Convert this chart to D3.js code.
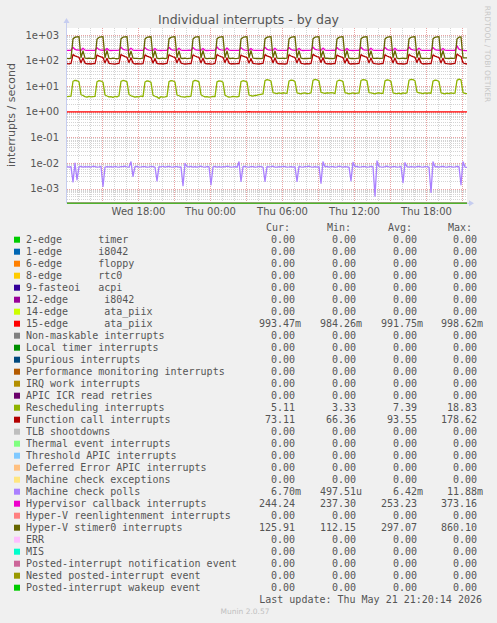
<!DOCTYPE html>
<html><head><meta charset="utf-8">
<script src="https://cdn.jsdelivr.net/npm/d3@7"></script>
<style>
body{margin:0;background:#f0f0f0;}
svg{display:block;}
text{font-family:"DejaVu Sans",sans-serif;}
.mono{font-family:"DejaVu Sans Mono",monospace;}
</style></head><body><svg id="c" width="497" height="623"></svg>
<script>
// ---------- DATA ----------
const titleText = "Individual interrupts - by day";
const yAxisLabel = "interrupts / second";
const startTime = new Date(2026, 4, 20, 12, 5);
const endTime = new Date(2026, 4, 21, 21, 25);
const stepMinutes = 10;

const yTickValues = [0.001, 0.01, 0.1, 1, 10, 100, 1000];
const yTickLabels = ["1e-03", "1e-02", "1e-01", "1e+00", "1e+01", "1e+02", "1e+03"];
const xTickDates = [new Date(2026,4,20,18,0), new Date(2026,4,21,0,0), new Date(2026,4,21,6,0), new Date(2026,4,21,12,0), new Date(2026,4,21,18,0)];
const xTickLabels = ["Wed 18:00", "Thu 00:00", "Thu 06:00", "Thu 12:00", "Thu 18:00"];

const legendNames = [
  "2-edge      timer", "1-edge      i8042", "6-edge      floppy", "8-edge      rtc0",
  "9-fasteoi   acpi", "12-edge      i8042", "14-edge      ata_piix", "15-edge      ata_piix",
  "Non-maskable interrupts", "Local timer interrupts", "Spurious interrupts",
  "Performance monitoring interrupts", "IRQ work interrupts", "APIC ICR read retries",
  "Rescheduling interrupts", "Function call interrupts", "TLB shootdowns",
  "Thermal event interrupts", "Threshold APIC interrupts", "Deferred Error APIC interrupts",
  "Machine check exceptions", "Machine check polls", "Hypervisor callback interrupts",
  "Hyper-V reenlightenment interrupts", "Hyper-V stimer0 interrupts", "ERR", "MIS",
  "Posted-interrupt notification event", "Nested posted-interrupt event", "Posted-interrupt wakeup event"
];
const legendColors = [
  "#00CC00","#0066B3","#FF8000","#FFCC00","#330099","#990099","#CCFF00","#FF0000",
  "#808080","#008F00","#00487D","#B35A00","#B38F00","#6B006B","#8FB300","#B30000",
  "#BEBEBE","#80FF80","#80C9FF","#FFC080","#FFE680","#AA80FF","#EE00CC","#FF8080",
  "#666600","#FFBFFF","#00FFCC","#CC6699","#999900","#00CC00"
];
const curVals = ["0.00","0.00","0.00","0.00","0.00","0.00","0.00","993.47m","0.00","0.00","0.00","0.00","0.00","0.00","5.11","73.11","0.00","0.00","0.00","0.00","0.00","6.70m","244.24","0.00","125.91","0.00","0.00","0.00","0.00","0.00"];
const minVals = ["0.00","0.00","0.00","0.00","0.00","0.00","0.00","984.26m","0.00","0.00","0.00","0.00","0.00","0.00","3.33","66.36","0.00","0.00","0.00","0.00","0.00","497.51u","237.30","0.00","112.15","0.00","0.00","0.00","0.00","0.00"];
const avgVals = ["0.00","0.00","0.00","0.00","0.00","0.00","0.00","991.75m","0.00","0.00","0.00","0.00","0.00","0.00","7.39","93.55","0.00","0.00","0.00","0.00","0.00","6.42m","253.23","0.00","297.07","0.00","0.00","0.00","0.00","0.00"];
const maxVals = ["0.00","0.00","0.00","0.00","0.00","0.00","0.00","998.62m","0.00","0.00","0.00","0.00","0.00","0.00","18.83","178.62","0.00","0.00","0.00","0.00","0.00","11.88m","373.16","0.00","860.10","0.00","0.00","0.00","0.00","0.00"];
const lastUpdate = "Last update: Thu May 21 21:20:14 2026";
const footerText = "Munin 2.0.57";
const sideText = "RRDTOOL / TOBI OETIKER";

// series sampled every 10 minutes from startTime (201 points)
const stimer0 = [121,119,
124,700,810,845,855,130,238,124,120,123,121,118,
123,680,800,835,850,127,245,122,119,125,120,117,
122,710,815,840,860,131,232,125,121,122,119,120,
124,690,805,830,848,128,240,123,118,121,124,119,
125,700,800,838,852,129,236,121,120,123,118,122,
123,695,812,842,856,126,242,124,119,122,121,120,
122,705,808,836,849,130,238,122,120,124,119,121,
124,688,798,832,846,127,244,123,121,120,122,118,
123,700,810,844,858,131,235,125,122,121,123,120,
125,692,806,839,851,128,240,124,119,122,120,121,
122,702,813,841,854,129,237,121,123,120,122,119,
124,696,802,834,848,127,243,123,120,121,118,122,
123,708,811,843,857,130,239,122,121,124,120,121,
125,690,804,837,850,128,241,124,119,121,123,120,
122,698,809,840,853,129,236,123,120,122,121,119,
124,703,807,838,852,127,242,121,122,120,123,121,
123,700,815,845,128,126,126];
const funcCall = [75,74,
77,170,152,141,133,82,126,79,74,76,73,75,
76,165,148,139,131,81,122,78,75,74,72,76,
78,172,154,142,134,83,128,80,73,75,74,74,
75,166,149,138,130,80,121,77,74,76,73,75,
77,169,151,140,133,82,125,79,75,73,74,76,
76,167,150,139,132,81,123,78,74,75,72,74,
78,171,153,141,134,83,127,79,73,76,74,75,
75,164,147,138,130,80,120,77,75,74,73,76,
77,170,152,142,133,82,126,80,74,75,74,73,
76,168,150,140,131,81,124,78,75,73,76,74,
78,173,155,143,135,84,129,80,74,76,73,75,
75,165,148,139,131,80,122,77,73,75,74,76,
77,170,151,141,133,82,125,79,75,74,72,75,
76,168,150,140,132,81,124,78,74,76,73,74,
78,172,153,142,134,83,127,80,73,75,74,76,
75,166,149,139,131,81,123,78,75,74,73,75,
77,178,156,143,82,75,73];
const hvCallback = [249,251,
252,330,270,257,253,249,302,255,247,250,248,251,
250,318,266,255,252,248,296,252,246,249,251,247,
253,335,272,258,254,250,305,256,248,251,247,250,
251,320,265,254,251,247,298,253,249,246,250,248,
252,328,269,256,253,249,301,254,247,250,248,252,
250,322,267,255,252,248,297,252,246,251,249,247,
254,340,273,259,255,250,307,256,248,250,247,251,
251,319,266,254,251,247,295,253,249,247,250,248,
252,332,270,257,254,249,303,255,247,251,248,250,
250,324,267,255,252,248,299,253,246,249,251,248,
253,338,271,258,254,250,306,256,248,250,247,252,
251,321,266,254,251,247,297,252,249,246,250,248,
252,330,269,256,253,249,302,254,247,250,248,251,
250,326,268,255,252,248,300,253,246,251,249,247,
253,336,272,258,254,250,304,255,248,250,247,250,
251,323,266,255,252,248,298,253,249,247,250,248,
252,373,275,258,250,246,244];
const resched = [3.9,4.0,
4.1,15.5,16.8,16.2,14.8,4.6,4.3,3.9,3.7,4.0,3.8,3.9,
4.0,14.8,16.3,15.8,14.2,4.5,4.1,3.8,3.9,3.6,4.0,3.8,
4.2,15.2,16.6,16.0,14.6,4.7,4.2,4.0,3.7,3.9,3.8,4.1,
3.9,14.5,16.0,15.5,14.0,4.4,4.0,3.8,3.3,3.9,3.7,3.8,
4.0,15.0,16.4,15.9,14.4,4.5,4.2,3.9,3.8,3.7,4.0,3.9,
4.1,15.3,16.7,16.1,14.7,4.6,4.1,3.8,3.9,3.7,3.8,4.0,
3.9,14.6,16.1,15.6,14.1,4.4,4.0,3.7,3.8,4.0,3.9,3.8,
4.0,14.9,16.2,15.7,14.3,4.5,4.2,4.1,4.3,4.4,4.6,4.8,
5.0,16.5,17.8,17.2,15.8,5.6,5.3,5.1,5.4,5.2,5.5,5.3,
5.2,15.8,17.2,16.8,15.2,5.5,5.2,5.0,5.3,5.4,5.1,5.2,
5.4,16.8,18.2,17.6,16.0,5.7,5.4,5.2,5.5,5.3,5.6,5.4,
5.1,15.5,17.0,16.5,15.0,5.5,5.3,5.0,5.2,5.4,5.1,5.3,
5.3,16.6,18.0,17.4,15.9,5.6,5.4,5.2,5.0,5.3,5.5,5.2,
5.2,16.0,17.5,17.0,15.4,5.5,5.2,5.1,5.3,5.0,5.4,5.2,
5.4,16.9,18.4,17.8,16.2,5.8,5.5,5.3,5.1,5.4,5.2,5.5,
5.2,15.7,17.1,16.6,15.1,5.5,5.2,5.0,5.3,5.1,5.4,5.2,
5.3,16.8,18.8,17.5,5.6,5.2,5.1];
const mcPolls = [
.0071,.0069,.0072,.0018,.0098,.0022,.0070,.0073,.0068,.0071,
.0070,.0072,.0069,.0074,.0071,.0068,.0070,.0073,.0012,.0069,
.0071,.0070,.0072,.0068,.0073,.0070,.0069,.0072,.0071,.0074,
.0070,.0068,.0110,.0030,.0071,.0073,.0069,.0070,.0072,.0071,
.0068,.0070,.0073,.0071,.0069,.0020,.0072,.0070,.0074,.0069,
.0071,.0073,.0070,.0068,.0072,.0071,.0069,.0070,.0013,.0095,
.0071,.0070,.0073,.0069,.0072,.0068,.0071,.0074,.0070,.0069,
.0072,.0071,.0014,.0070,.0073,.0069,.0071,.0068,.0072,.0070,
.0074,.0071,.0069,.0070,.0072,.0068,.0110,.0019,.0071,.0073,
.0070,.0069,.0072,.0071,.0068,.0070,.0073,.0071,.0069,.0019,
.0072,.0070,.0071,.0074,.0069,.0068,.0072,.0070,.0073,.0071,
.0069,.0070,.0072,.0068,.0071,.0019,.0073,.0070,.0069,.0072,
.0071,.0074,.0070,.0068,.0072,.0069,.0071,.0016,.0110,.0070,
.0073,.0069,.0071,.0072,.0068,.0070,.0074,.0071,.0069,.0072,
.0070,.0068,.0020,.0105,.0071,.0073,.0069,.0070,.0072,.0071,
.0068,.0070,.0073,.0071,.0005,.0119,.0072,.0070,.0069,.0071,
.0074,.0070,.0068,.0072,.0071,.0069,.0070,.0073,.0017,.0102,
.0071,.0069,.0072,.0070,.0068,.0071,.0073,.0070,.0069,.0072,
.0071,.0068,.0007,.0110,.0070,.0072,.0069,.0071,.0073,.0070,
.0068,.0071,.0072,.0069,.0070,.0073,.0071,.0014,.0110,.0069,
.0067];
const ata15 = [
.992,.991,.993,.990,.992,.994,.991,.992,.990,.993,.991,.992,.989,.993,.992,.991,.994,.990,.992,.991,
.993,.992,.990,.991,.993,.992,.994,.991,.990,.992,.993,.991,.992,.990,.994,.992,.991,.993,.990,.992,
.991,.993,.992,.990,.984,.991,.993,.992,.991,.994,.990,.992,.993,.991,.992,.990,.993,.992,.991,.994,
.992,.990,.991,.993,.992,.991,.994,.990,.992,.993,.991,.992,.990,.993,.992,.991,.993,.992,.990,.991,
.993,.991,.992,.994,.990,.992,.991,.993,.992,.990,.991,.998,.992,.991,.993,.990,.992,.994,.991,.992,
.990,.993,.991,.992,.993,.990,.992,.991,.994,.992,.990,.993,.991,.992,.990,.993,.992,.991,.994,.990,
.992,.991,.993,.990,.992,.994,.991,.992,.990,.993,.991,.992,.989,.993,.992,.991,.994,.990,.992,.991,
.993,.992,.990,.991,.993,.992,.994,.991,.990,.992,.993,.991,.992,.990,.994,.992,.991,.993,.990,.992,
.991,.993,.992,.990,.991,.991,.993,.992,.991,.994,.990,.992,.993,.991,.992,.990,.993,.992,.991,.994,
.992,.990,.991,.993,.992,.991,.994,.990,.992,.993,.991,.992,.990,.993,.992,.991,.993,.992,.990,.993,
.993];
// series index in legend -> values (others are constant 0)
const drawnSeries = [
  {idx: 7, values: ata15},
  {idx: 14, values: resched},
  {idx: 15, values: funcCall},
  {idx: 21, values: mcPolls},
  {idx: 22, values: hvCallback},
  {idx: 24, values: stimer0}
];

// ---------- LAYOUT ----------
const svg = d3.select("#c");
const plotL = 67, plotR = 467, plotT = 28, plotB = 203.3;
const yMin = Math.pow(10, -3.578), yMax = Math.pow(10, 3.27);
const x = d3.scaleTime().domain([startTime, endTime]).range([plotL, plotR]);
const y = d3.scaleLog().domain([yMin, yMax]).range([plotB, plotT]);
const tAt = i => new Date(startTime.getTime() + i * stepMinutes * 60000);

svg.append("rect").attr("width", 497).attr("height", 623).attr("fill", "#f0f0f0");
svg.append("rect").attr("x", plotL).attr("y", plotT).attr("width", plotR - plotL).attr("height", plotB - plotT).attr("fill", "#ffffff");

// grid
const grid = svg.append("g");
const yt = y.ticks();
yt.forEach(v => {
  const mant = Math.round(v / Math.pow(10, Math.floor(Math.log10(v) + 1e-9)));
  const major = mant === 1;
  const yy = Math.round(y(v)) + 0.5;
  grid.append("line").attr("x1", plotL).attr("x2", plotR).attr("y1", yy).attr("y2", yy)
    .attr("stroke", major ? "#e9a3a3" : "#d4d4d4").attr("stroke-dasharray", "1,1");
});
x.ticks(d3.timeHour.every(1)).forEach(t => {
  const major = t.getHours() % 3 === 0;
  const xx = Math.round(x(t)) + 0.5;
  grid.append("line").attr("y1", plotT).attr("y2", plotB).attr("x1", xx).attr("x2", xx)
    .attr("stroke", major ? "#e9a3a3" : "#d4d4d4").attr("stroke-dasharray", "1,1");
});

// axes
const axCol = "#c6cdf0";
svg.append("line").attr("x1", plotL - 0.5).attr("x2", plotL - 0.5).attr("y1", plotB).attr("y2", plotT - 6).attr("stroke", axCol);
svg.append("path").attr("d", `M${plotL-3.5},${plotT-5} L${plotL-0.5},${plotT-10} L${plotL+2.5},${plotT-5} Z`).attr("fill", axCol);
svg.append("line").attr("x1", plotL).attr("x2", plotR + 4).attr("y1", plotB).attr("y2", plotB).attr("stroke", axCol);
svg.append("path").attr("d", `M${plotR+2},${plotB-3} L${plotR+7},${plotB} L${plotR+2},${plotB+3} Z`).attr("fill", axCol);

const yAxis = d3.axisLeft(y).tickValues(yTickValues).tickFormat((d, i) => yTickLabels[i]).tickSize(0).tickPadding(0);
const gy = svg.append("g").attr("transform", `translate(${plotL - 8},0)`).call(yAxis);
gy.select(".domain").remove();
gy.selectAll("text").attr("font-family", "DejaVu Sans").attr("font-size", "10px").attr("fill", "#555");

const xAxis = d3.axisBottom(x).tickValues(xTickDates).tickFormat((d, i) => xTickLabels[i]).tickSize(0).tickPadding(0);
const gx = svg.append("g").attr("transform", `translate(0,${plotB + 5})`).call(xAxis);
gx.select(".domain").remove();
gx.selectAll("text").attr("font-family", "DejaVu Sans").attr("font-size", "10px").attr("fill", "#555");

// series
const line = d3.line().x(d => x(d.t)).y(d => y(Math.max(d.v, yMin)));
const lines = svg.append("g");
// zero-valued series sit on the bottom edge
legendColors.forEach((c, i) => {
  if (drawnSeries.some(s => s.idx === i)) return;
  lines.append("path").datum([{t: startTime, v: 0}, {t: endTime, v: 0}])
    .attr("d", line).attr("fill", "none").attr("stroke", c).attr("stroke-opacity", 0.5).attr("stroke-width", 1.2);
});
drawnSeries.forEach(s => {
  lines.append("path").datum(s.values.map((v, i) => ({t: tAt(i), v})))
    .attr("d", line).attr("fill", "none").attr("stroke", legendColors[s.idx]).attr("stroke-width", 1.3)
    .attr("stroke-linejoin", "round");
});

// title
svg.append("text").attr("x", 248.5).attr("y", 23.5).attr("text-anchor", "middle")
  .attr("font-size", "12.5px").attr("fill", "#555").text(titleText);
// y label
svg.append("text").attr("transform", "translate(15,115) rotate(-90)").attr("text-anchor", "middle")
  .attr("font-size", "11px").attr("fill", "#555").text(yAxisLabel);
// side text
svg.append("text").attr("transform", "translate(485,54) rotate(90)").attr("text-anchor", "middle")
  .attr("font-size", "7.5px").attr("fill", "#c8c8c8").text(sideText);

// legend
const lg = svg.append("g").attr("class", "mono");
const colEnds = [295, 356, 417, 477];
const headers = ["Cur:", "Min:", "Avg:", "Max:"];
headers.forEach((h, j) => {
  lg.append("text").attr("x", colEnds[j] - 5).attr("y", 230.5).attr("text-anchor", "end")
    .attr("class", "mono").attr("font-size", "10px").attr("fill", "#555").text(h);
});
const cols = [curVals, minVals, avgVals, maxVals];
legendNames.forEach((name, i) => {
  const cy = 239.7 + 12 * i;
  lg.append("rect").attr("x", 14).attr("y", cy - 3).attr("width", 6).attr("height", 6).attr("fill", legendColors[i]);
  lg.append("text").attr("x", 26).attr("y", cy + 3.5).attr("class", "mono").attr("font-size", "10px")
    .attr("fill", "#555").attr("xml:space", "preserve").style("white-space", "pre").text(name);
  cols.forEach((arr, j) => {
    const s = arr[i];
    const m = s.match(/^([\d.]+)([a-zA-Z]?)$/);
    lg.append("text").attr("x", colEnds[j]).attr("y", cy + 3.5).attr("text-anchor", "end")
      .attr("class", "mono").attr("font-size", "10px").attr("fill", "#555").text(m[1]);
    if (m[2]) lg.append("text").attr("x", colEnds[j]).attr("y", cy + 3.5)
      .attr("class", "mono").attr("font-size", "10px").attr("fill", "#555").text(m[2]);
  });
});
svg.append("text").attr("x", 482).attr("y", 603).attr("text-anchor", "end").attr("class", "mono")
  .attr("font-size", "10px").attr("fill", "#555").text(lastUpdate);
svg.append("text").attr("x", 245).attr("y", 613.5).attr("text-anchor", "middle")
  .attr("font-size", "7.5px").attr("fill", "#c0c0c0").text(footerText);
</script></body></html>
